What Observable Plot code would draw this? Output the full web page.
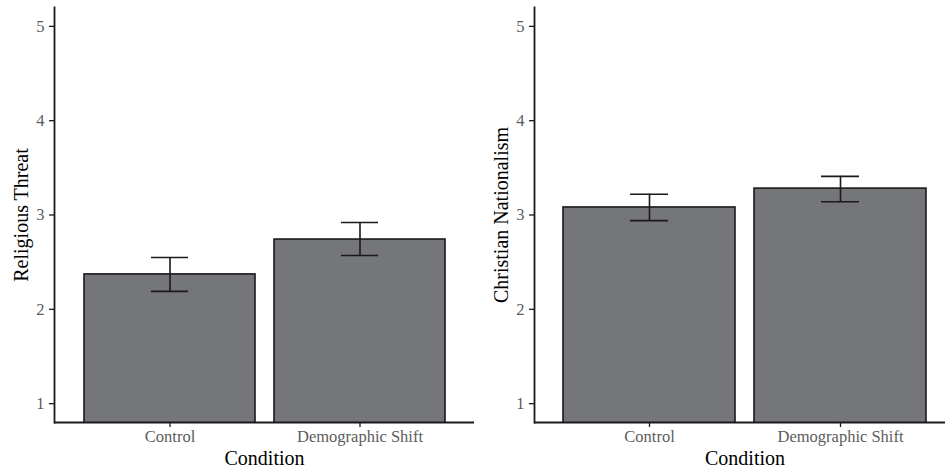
<!DOCTYPE html>
<html>
<head>
<meta charset="utf-8">
<script src="https://cdn.jsdelivr.net/npm/d3@7"></script>
<script src="https://cdn.jsdelivr.net/npm/@observablehq/plot@0.6"></script>
<style>
  html, body { margin: 0; padding: 0; background: #fff; overflow: hidden; }
  #wrap { position: relative; width: 945px; height: 470px; overflow: hidden; }
  #wrap > div, #wrap > svg { position: absolute; top: 0; }
</style>
</head>
<body>
<div id="wrap"></div>
<script>
const conditions = ["Control", "Demographic Shift"];
const threatMean = [2.37, 2.74];
const threatLow = [2.19, 2.57];
const threatHigh = [2.55, 2.92];
const natMean = [3.08, 3.28];
const natLow = [2.94, 3.14];
const natHigh = [3.22, 3.41];
const yTicks = [1, 2, 3, 4, 5];
const yDomain = [0.8, 5.2];
const xLabel = "Condition";

const ink = "#1a1a1a";
const barFill = "#75767a";
const tickInk = "#5c5c5c";

function panel(yLabel, means, lows, highs, width, marginLeft, marginRight) {
  const data = conditions.map((c, i) => ({cond: c, mean: means[i], lo: lows[i], hi: highs[i]}));
  return Plot.plot({
    width, height: 470,
    marginTop: 7, marginBottom: 48, marginLeft, marginRight,
    style: {fontFamily: "'Liberation Serif', 'Times New Roman', serif", background: "transparent", overflow: "visible"},
    x: {domain: conditions, paddingInner: 0.1, paddingOuter: 0.15, label: null},
    y: {domain: yDomain, label: null},
    marks: [
      Plot.barY(data, {x: "cond", y: "mean", fill: barFill, stroke: ink, strokeWidth: 1.6, clip: true}),
      Plot.ruleX(data, {x: "cond", y1: "lo", y2: "hi", stroke: ink, strokeWidth: 1.6}),
      Plot.tickY(data, {x: "cond", y: "lo", stroke: ink, strokeWidth: 1.6, insetLeft: 67, insetRight: 67}),
      Plot.tickY(data, {x: "cond", y: "hi", stroke: ink, strokeWidth: 1.6, insetLeft: 67, insetRight: 67}),
      // y ticks + tick labels
      Plot.axisY({ticks: yTicks, tickFormat: "d", tickSize: 5, tickPadding: 5, stroke: ink, strokeWidth: 1.3,
        fill: tickInk, fontSize: 16.5, label: null}),
      // y title
      Plot.axisY({ticks: [], tickSize: 0, fontSize: 20, fill: "#000",
        label: yLabel, labelAnchor: "center", labelArrow: "none", labelOffset: 41}),
      // x ticks + tick labels
      Plot.axisX({tickSize: 5, tickPadding: 3, stroke: ink, strokeWidth: 1.3,
        fill: tickInk, fontSize: 16.5, label: null}),
      // x title
      Plot.axisX({ticks: [], tickSize: 0, fontSize: 20, fill: "#000",
        label: xLabel, labelAnchor: "center", labelArrow: "none", labelOffset: 42}),
      Plot.frame({anchor: "left", stroke: ink, strokeWidth: 1.8}),
      Plot.ruleY([yDomain[0]], {stroke: ink, strokeWidth: 1.8})
    ]
  });
}

const wrap = document.getElementById("wrap");
const left = panel("Religious Threat", threatMean, threatLow, threatHigh, 475, 54, 1);
left.style.left = "0px";
const right = panel("Christian Nationalism", natMean, natLow, natHigh, 486, 64, 1);
right.style.left = "470px";
wrap.appendChild(left);
wrap.appendChild(right);
</script>
</body>
</html>
